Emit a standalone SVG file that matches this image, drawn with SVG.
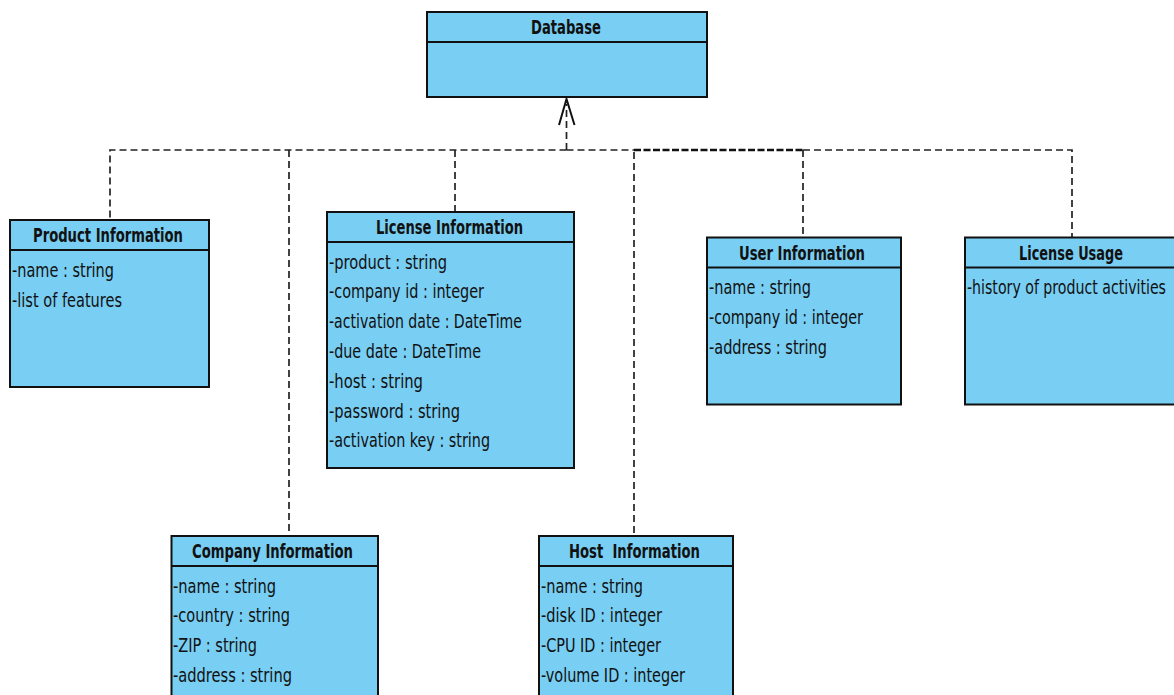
<svg xmlns="http://www.w3.org/2000/svg" width="1174" height="695" viewBox="0 0 1174 695">
  <style>
    .box { fill: #79cef3; stroke: #111; stroke-width: 2; }
    .sep { stroke: #111; stroke-width: 2; }
    .title { font-family: "Liberation Sans Narrow", "DejaVu Sans Condensed", "Liberation Sans", sans-serif; font-size: 20px; font-weight: bold; fill: #111; text-anchor: middle; }
    .attr { font-family: "Liberation Sans Narrow", "DejaVu Sans Condensed", "Liberation Sans", sans-serif; font-size: 20px; fill: #111; }
    .dash { fill: none; stroke: #222; stroke-width: 1.7; stroke-dasharray: 7 4; }
    .dash-bold { fill: none; stroke: #111; stroke-width: 2.3; stroke-dasharray: 7 2.5; }
    .head { fill: none; stroke: #111; stroke-width: 2; }
  </style>

  <!-- dependency connectors -->
  <g id="connectors">
    <path class="dash" d="M566.5,150 V104"/>
    <path class="head" d="M559,125 L566.5,99 L574.5,125"/>
    <path class="dash" d="M566.5,150 H110 V220"/>
    <path class="dash" d="M289,150 V536"/>
    <path class="dash" d="M455,150 V212"/>
    <path class="dash" d="M566.5,150 H634"/>
    <path class="dash-bold" d="M634,150 H803"/>
    <path class="dash" d="M634,152 V536"/>
    <path class="dash" d="M803,150 H1072 V237"/>
    <path class="dash" d="M803,150 V237"/>
  </g>

  <g id="database">
    <rect class="box" x="427" y="12" width="280" height="85"/>
    <line class="sep" x1="427" y1="42" x2="707" y2="42"/>
    <text class="title" x="566" y="34" textLength="70" lengthAdjust="spacingAndGlyphs">Database</text>
  </g>

  <g id="product-information">
    <rect class="box" x="10" y="220" width="199" height="167"/>
    <line class="sep" x1="10" y1="250" x2="209" y2="250"/>
    <text class="title" x="108" y="242" textLength="150" lengthAdjust="spacingAndGlyphs">Product Information</text>
    <text class="attr" x="12" y="277" textLength="102" lengthAdjust="spacingAndGlyphs">-name : string</text>
    <text class="attr" x="12" y="306.5" textLength="110" lengthAdjust="spacingAndGlyphs">-list of features</text>
  </g>

  <g id="license-information">
    <rect class="box" x="327" y="212" width="247" height="256"/>
    <line class="sep" x1="327" y1="242" x2="574" y2="242"/>
    <text class="title" x="449.5" y="234" textLength="147" lengthAdjust="spacingAndGlyphs">License Information</text>
    <text class="attr" x="329" y="268.5" textLength="118" lengthAdjust="spacingAndGlyphs">-product : string</text>
    <text class="attr" x="329" y="298.3" textLength="155" lengthAdjust="spacingAndGlyphs">-company id : integer</text>
    <text class="attr" x="329" y="328.1" textLength="193" lengthAdjust="spacingAndGlyphs">-activation date : DateTime</text>
    <text class="attr" x="329" y="357.9" textLength="152" lengthAdjust="spacingAndGlyphs">-due date : DateTime</text>
    <text class="attr" x="329" y="387.7" textLength="94" lengthAdjust="spacingAndGlyphs">-host : string</text>
    <text class="attr" x="329" y="417.5" textLength="131" lengthAdjust="spacingAndGlyphs">-password : string</text>
    <text class="attr" x="329" y="447.3" textLength="161" lengthAdjust="spacingAndGlyphs">-activation key : string</text>
  </g>

  <g id="user-information">
    <rect class="box" x="707" y="237.5" width="194" height="167"/>
    <line class="sep" x1="707" y1="267.5" x2="901" y2="267.5"/>
    <text class="title" x="802" y="259.5" textLength="126" lengthAdjust="spacingAndGlyphs">User Information</text>
    <text class="attr" x="709" y="294" textLength="102" lengthAdjust="spacingAndGlyphs">-name : string</text>
    <text class="attr" x="709" y="323.8" textLength="154" lengthAdjust="spacingAndGlyphs">-company id : integer</text>
    <text class="attr" x="709" y="353.6" textLength="118" lengthAdjust="spacingAndGlyphs">-address : string</text>
  </g>

  <g id="license-usage">
    <rect class="box" x="965" y="237.5" width="220" height="167"/>
    <line class="sep" x1="965" y1="267.5" x2="1185" y2="267.5"/>
    <text class="title" x="1071" y="259.5" textLength="104" lengthAdjust="spacingAndGlyphs">License Usage</text>
    <text class="attr" x="967" y="294" textLength="199" lengthAdjust="spacingAndGlyphs">-history of product activities</text>
  </g>

  <g id="company-information">
    <rect class="box" x="171.5" y="536" width="206.5" height="170"/>
    <line class="sep" x1="171.5" y1="566" x2="378" y2="566"/>
    <text class="title" x="272.5" y="558" textLength="161" lengthAdjust="spacingAndGlyphs">Company Information</text>
    <text class="attr" x="173" y="592.5" textLength="103" lengthAdjust="spacingAndGlyphs">-name : string</text>
    <text class="attr" x="173" y="622.3" textLength="117" lengthAdjust="spacingAndGlyphs">-country : string</text>
    <text class="attr" x="173" y="652.1" textLength="84" lengthAdjust="spacingAndGlyphs">-ZIP : string</text>
    <text class="attr" x="173" y="681.9" textLength="119" lengthAdjust="spacingAndGlyphs">-address : string</text>
  </g>

  <g id="host-information">
    <rect class="box" x="539" y="536" width="194" height="170"/>
    <line class="sep" x1="539" y1="566" x2="733" y2="566"/>
    <text class="title" x="634.5" y="558" textLength="131" lengthAdjust="spacingAndGlyphs" xml:space="preserve">Host  Information</text>
    <text class="attr" x="541" y="592.5" textLength="102" lengthAdjust="spacingAndGlyphs">-name : string</text>
    <text class="attr" x="541" y="622.3" textLength="121" lengthAdjust="spacingAndGlyphs">-disk ID : integer</text>
    <text class="attr" x="541" y="652.1" textLength="120" lengthAdjust="spacingAndGlyphs">-CPU ID : integer</text>
    <text class="attr" x="541" y="681.9" textLength="144" lengthAdjust="spacingAndGlyphs">-volume ID : integer</text>
  </g>
</svg>
